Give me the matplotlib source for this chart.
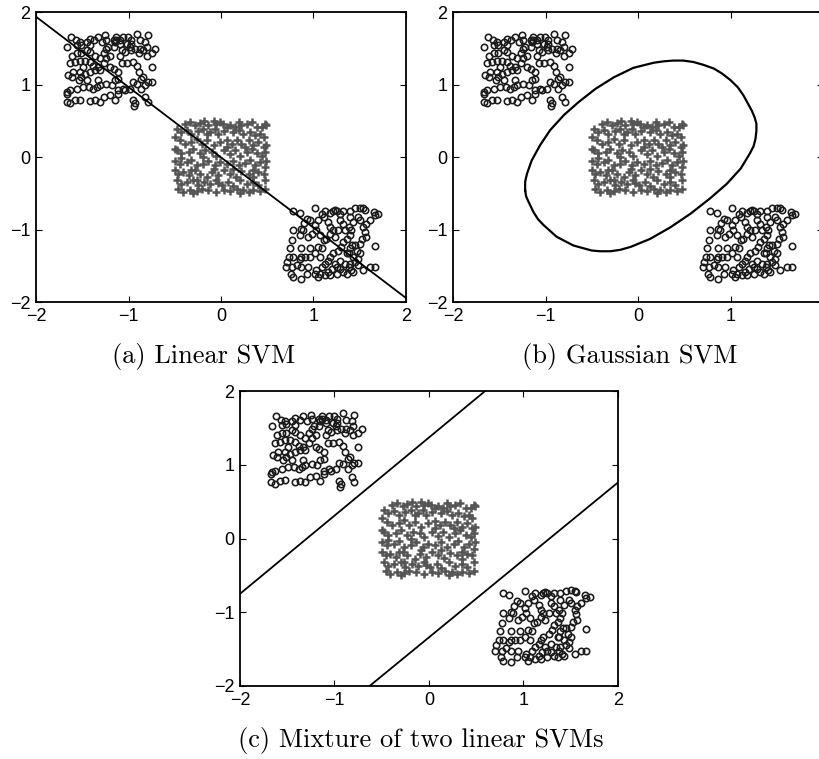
import matplotlib
matplotlib.use("Agg")
import matplotlib.pyplot as plt
import numpy as np

#  Class 1, upper-left cluster (circles).
x_up = [-1.62, -1.57, -1.52, -1.56, -1.66, -1.51, -1.42, -1.37, -1.33, -1.25, -1.16, -1.15, -1.13,
        -1.09, -1.06, -1.01, -0.97, -0.91, -0.88, -0.82, -0.79, -0.71, -0.75, -0.80, -0.84, -0.88,
        -0.93, -0.97, -0.98, -1.04, -1.07, -1.09, -1.16, -1.22, -1.20, -1.27, -1.31, -1.36, -1.42,
        -1.45, -1.51, -1.56, -1.61, -1.63, -1.58, -1.52, -1.47, -1.42, -1.38, -1.33, -1.27, -1.24,
        -1.16, -1.11, -1.02, -0.95, -0.91, -0.89, -0.84, -0.75, -0.79, -0.82, -0.75, -0.86, -0.91,
        -0.95, -0.98, -1.06, -1.11, -1.15, -1.11, -1.18, -1.24, -1.31, -1.33, -1.34, -1.38, -1.43,
        -1.49, -1.54, -1.61, -1.65, -1.60, -1.52, -1.47, -1.42, -1.36, -1.56, -1.63, -1.66, -1.67,
        -1.67, -1.63, -1.58, -1.52, -1.42, -1.36, -1.31, -1.26, -1.20, -1.15, -1.11, -1.04, -0.95,
        -0.93, -0.94, -0.82, -0.79, -0.86, -1.07, -1.02, -0.97, -0.80, -0.89, -1.09, -1.24, -1.29,
        -1.24, -1.13, -1.42, -1.45, -1.51, -1.45, -1.31, -1.20, -1.49]
y_up = [1.66, 1.61, 1.59, 1.54, 1.52, 1.55, 1.63, 1.61, 1.66, 1.68, 1.62, 1.59, 1.62,
        1.61, 1.66, 1.66, 1.62, 1.70, 1.61, 1.59, 1.68, 1.49, 1.43, 1.40, 1.47, 1.49,
        1.49, 1.47, 1.52, 1.45, 1.47, 1.40, 1.52, 1.52, 1.40, 1.43, 1.36, 1.40, 1.45,
        1.47, 1.43, 1.43, 1.40, 1.29, 1.31, 1.33, 1.33, 1.31, 1.26, 1.24, 1.29, 1.36,
        1.22, 1.17, 1.29, 1.31, 1.26, 1.17, 1.10, 1.24, 1.03, 0.99, 1.03, 0.94, 1.01,
        1.03, 0.94, 0.94, 0.92, 1.06, 1.08, 0.99, 1.01, 0.99, 1.06, 0.97, 0.94, 0.97,
        0.97, 1.06, 1.10, 1.13, 1.17, 1.17, 1.15, 1.17, 1.20, 0.94, 0.92, 0.90, 0.87,
        0.76, 0.74, 0.78, 0.79, 0.77, 0.78, 0.76, 0.83, 0.85, 0.78, 0.87, 0.92, 0.78,
        0.74, 0.70, 0.83, 0.76, 1.08, 1.29, 1.56, 1.56, 1.52, 1.43, 1.56, 1.49, 1.59,
        1.62, 1.66, 1.54, 1.59, 1.10, 1.06, 1.20, 1.24, 1.24]

#  Class 1, lower-right cluster (circles).
x_dn = [0.78, 0.85, 1.02, 1.09, 1.12, 1.18, 1.21, 1.23, 1.25, 1.29, 1.32, 1.39, 1.45, 1.50,
        1.54, 1.56, 1.65, 1.70, 1.66, 1.61, 1.57, 1.54, 1.56, 1.57, 1.52, 1.50, 1.47, 1.50,
        1.48, 1.43, 1.39, 1.38, 1.41, 1.36, 1.32, 1.29, 1.25, 1.23, 1.20, 1.16, 1.12, 1.07,
        1.05, 1.02, 1.03, 1.09, 1.12, 1.16, 1.18, 1.21, 1.27, 1.30, 1.32, 1.36, 1.39, 1.41,
        1.38, 1.32, 1.29, 1.27, 1.21, 1.18, 1.14, 1.11, 1.07, 1.03, 1.02, 1.05, 1.11, 1.16,
        0.96, 0.93, 0.90, 0.87, 0.85, 0.89, 0.78, 0.77, 0.75, 0.74, 0.71, 0.70, 0.77, 0.76,
        0.78, 0.87, 0.93, 0.94, 0.87, 0.82, 0.85, 0.87, 0.91, 0.96, 1.02, 1.07, 1.09, 1.05,
        0.96, 0.87, 0.78, 1.66, 1.61, 1.66, 1.54, 1.48, 1.45, 1.38, 1.39, 1.42, 1.34, 1.48,
        1.50, 1.43, 1.39, 1.23, 1.18, 0.98, 0.94, 1.45, 1.36, 1.29, 1.34, 1.25, 1.18, 1.43]
y_dn = [-0.74, -0.77, -0.71, -0.78, -0.74, -0.77, -0.74, -0.73, -0.74, -0.78, -0.74, -0.74, -0.71, -0.70,
        -0.71, -0.73, -0.76, -0.79, -0.80, -0.87, -0.92, -0.97, -1.03, -1.10, -1.13, -1.20, -1.29, -1.33,
        -1.40, -1.38, -1.47, -1.52, -1.56, -1.61, -1.59, -1.54, -1.52, -1.47, -1.54, -1.59, -1.63, -1.61,
        -1.66, -1.61, -1.56, -1.52, -1.47, -1.43, -1.38, -1.33, -1.29, -1.24, -1.17, -1.13, -1.08, -1.01,
        -0.97, -0.92, -0.87, -1.01, -1.01, -1.06, -1.13, -1.15, -1.08, -1.01, -0.94, -0.87, -0.83, -0.90,
        -0.87, -0.85, -0.91, -0.99, -1.08, -1.01, -1.01, -1.14, -1.26, -1.38, -1.45, -1.52, -1.52, -1.61,
        -1.66, -1.68, -1.61, -1.52, -1.52, -1.49, -1.40, -1.38, -1.38, -1.38, -1.33, -1.38, -1.26, -1.24,
        -1.26, -1.25, -1.38, -1.23, -1.52, -1.52, -1.56, -1.49, -1.45, -1.33, -1.26, -1.22, -1.01, -0.83,
        -0.87, -0.90, -0.83, -1.10, -0.97, -1.06, -1.10, -1.22, -1.33, -1.43, -1.47, -1.61, -1.63, -1.59]

#  Class 2, centre cluster (plus signs).
x_mid = [-0.39, -0.34, -0.28, -0.23, -0.18, -0.14, -0.08, -0.05, -0.01, 0.02, 0.06, 0.10, 0.15, 0.19, 0.28, 0.33, 0.39, 0.44, 0.48, 0.49,
         -0.48, -0.43, -0.37, -0.32, -0.25, -0.19, -0.12, -0.06, -0.03, 0.03, 0.13, 0.19, 0.24, 0.31, 0.37, 0.42, 0.46,
         -0.50, -0.44, -0.39, -0.32, -0.26, -0.21, -0.15, -0.08, -0.01, 0.06, 0.12, 0.17, 0.22, 0.30, 0.35, 0.40, 0.46, 0.49,
         -0.48, -0.43, -0.35, -0.30, -0.23, -0.17, -0.10, -0.05, 0.03, 0.10, 0.15, 0.21, 0.28, 0.33, 0.39, 0.44, 0.48,
         -0.50, -0.44, -0.37, -0.32, -0.26, -0.19, -0.14, -0.06, -0.01, 0.06, 0.13, 0.19, 0.26, 0.31, 0.37, 0.42, 0.48,
         -0.50, -0.46, -0.41, -0.35, -0.28, -0.23, -0.15, -0.10, -0.03, 0.03, 0.10, 0.16, 0.22, 0.30, 0.35, 0.40, 0.46,
         -0.48, -0.43, -0.37, -0.30, -0.25, -0.18, -0.12, -0.05, 0.01, 0.08, 0.13, 0.21, 0.28, 0.35, 0.40, 0.48,
         -0.46, -0.41, -0.34, -0.26, -0.21, -0.14, -0.05, 0.03, 0.10, 0.17, 0.24, 0.30, 0.35, 0.42, 0.48,
         -0.15, 0.22, -0.32, -0.08, 0.13, 0.35, -0.43, -0.19, 0.06, 0.26, -0.26, -0.03, 0.21, -0.30, 0.49, -0.50]
y_mid = [0.46, 0.48, 0.44, 0.47, 0.49, 0.44, 0.49, 0.46, 0.48, 0.45, 0.41, 0.44, 0.41, 0.48, 0.45, 0.48, 0.41, 0.41, 0.46, 0.44,
         0.39, 0.34, 0.37, 0.32, 0.36, 0.39, 0.34, 0.38, 0.32, 0.36, 0.34, 0.37, 0.32, 0.34, 0.30, 0.32, 0.28,
         0.28, 0.23, 0.18, 0.21, 0.25, 0.18, 0.23, 0.16, 0.21, 0.24, 0.18, 0.23, 0.18, 0.23, 0.16, 0.21, 0.14, 0.16,
         0.09, 0.05, 0.07, 0.11, 0.05, 0.09, 0.07, 0.02, 0.09, 0.04, 0.09, 0.02, 0.07, 0.11, 0.05, 0.02, 0.07,
         -0.05, -0.09, -0.07, -0.04, -0.11, -0.09, -0.05, -0.11, -0.07, -0.09, -0.05, -0.11, -0.08, -0.04, -0.11, -0.07, -0.14,
         -0.18, -0.23, -0.21, -0.25, -0.18, -0.23, -0.28, -0.21, -0.25, -0.18, -0.23, -0.27, -0.19, -0.23, -0.28, -0.21, -0.23,
         -0.32, -0.37, -0.34, -0.32, -0.39, -0.34, -0.37, -0.32, -0.39, -0.34, -0.40, -0.32, -0.37, -0.34, -0.39, -0.32,
         -0.44, -0.48, -0.45, -0.47, -0.44, -0.46, -0.48, -0.45, -0.47, -0.44, -0.46, -0.48, -0.45, -0.47, -0.44,
         0.32, 0.44, -0.18, -0.16, -0.16, -0.18, -0.02, 0.00, 0.14, 0.14, -0.32, -0.36, -0.49, -0.49, -0.05, 0.11]

#  Linear SVM (a): slope and intercept of the separating line.
lin_w, lin_b = -0.97, -0.005

#  Gaussian SVM (b): points along the closed decision boundary.
gauss_x = [-1.22, -1.22, -1.20, -1.15, -1.06, -0.95, -0.80, -0.64, -0.46, -0.26, -0.05, 0.17,
           0.28, 0.38, 0.49, 0.60, 0.71, 0.82, 0.91, 1.00, 1.08, 1.14, 1.23, 1.26, 1.28, 1.28,
           1.27, 1.25, 1.21, 1.11, 0.96, 0.78, 0.57, 0.35, 0.13, -0.08, -0.19, -0.30, -0.41,
           -0.50, -0.70, -0.88, -0.95, -1.02, -1.08, -1.13, -1.19, -1.21, -1.22]
gauss_y = [-0.46, -0.34, -0.23, -0.05, 0.16, 0.37, 0.58, 0.76, 0.94, 1.10, 1.23, 1.30,
           1.32, 1.33, 1.33, 1.31, 1.27, 1.22, 1.15, 1.06, 0.96, 0.85, 0.64, 0.55, 0.46, 0.36,
           0.25, 0.15, 0.05, -0.16, -0.37, -0.57, -0.78, -0.97, -1.13, -1.24, -1.28, -1.30, -1.30,
           -1.29, -1.22, -1.10, -1.02, -0.94, -0.86, -0.76, -0.60, -0.54, -0.46]

#  Mixture of two linear SVMs (c): slopes and intercepts.
mix_w = [1.06, 1.05]
mix_b = [1.37, -1.34]

ticks = [-2, -1, 0, 1, 2]
tick_labels = ["\u22122", "\u22121", "0", "1", "2"]
captions = ["(a) Linear SVM", "(b) Gaussian SVM", "(c) Mixture of two linear SVMs"]

W, H = 820.0, 759.0
fig = plt.figure(figsize=(W / 100, H / 100), dpi=100)


def make_axes(left, top, right, bottom):
	ax = fig.add_axes([left / W, 1 - bottom / H, (right - left) / W, (bottom - top) / H])
	ax.set_xlim(-2, 2)
	ax.set_ylim(-2, 2)
	ax.set_xticks(ticks)
	ax.set_yticks(ticks)
	ax.set_xticklabels(tick_labels)
	ax.set_yticklabels(tick_labels)
	ax.tick_params(direction="in", length=4, width=0.8, top=True, right=True,
	               labelsize=13, pad=4)
	for lab in ax.get_xticklabels() + ax.get_yticklabels():
		lab.set_fontfamily("Liberation Sans")
	for s in ax.spines.values():
		s.set_linewidth(1.3)
	#  Data points, same in every panel.
	ax.plot(x_mid, y_mid, "+", color="#555555", ms=5.2, mew=1.8, ls="none")
	ax.plot(x_up, y_up, "o", mfc="none", mec="#1a1a1a", ms=4.6, mew=1.15, ls="none")
	ax.plot(x_dn, y_dn, "o", mfc="none", mec="#1a1a1a", ms=4.6, mew=1.15, ls="none")
	return ax


xs = np.array([-2.0, 2.0])

#  (a) Linear SVM.
ax_a = make_axes(36, 12, 406, 302)
ax_a.plot(xs, lin_w * xs + lin_b, color="black", lw=1.3)

#  (b) Gaussian SVM.
ax_b = make_axes(453, 12, 823, 302)
ax_b.plot(gauss_x, gauss_y, color="black", lw=1.6, solid_joinstyle="round")

#  (c) Mixture of two linear SVMs.
ax_c = make_axes(240, 391, 618, 686)
for w, b in zip(mix_w, mix_b):
	ax_c.plot(xs, w * xs + b, color="black", lw=1.3)

#  Sub-figure captions.
fig.text(204 / W, 1 - 356 / H, captions[0], ha="center", va="center", fontsize=19, family="cmr10")
fig.text(630 / W, 1 - 356 / H, captions[1], ha="center", va="center", fontsize=19, family="cmr10")
fig.text(421 / W, 1 - 740 / H, captions[2], ha="center", va="center", fontsize=19, family="cmr10")

plt.savefig("out.png", dpi=100)
